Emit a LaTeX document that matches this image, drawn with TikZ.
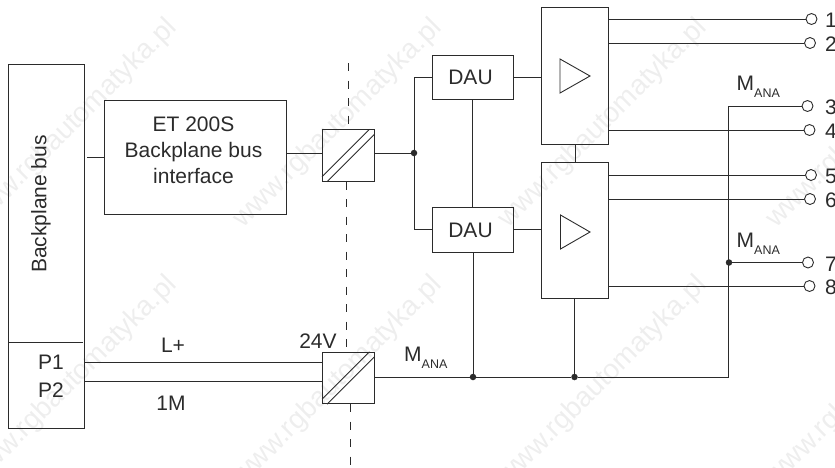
\documentclass[tikz,border=0pt]{standalone}
\usepackage{fontspec}
\setmainfont{Liberation Sans}
\usepackage{tikz}
\usepackage{xcolor}
\definecolor{inkgray}{HTML}{2B2B2B}
\definecolor{markgray}{HTML}{EEEEEE}
\tikzset{
  box/.style={draw=inkgray, line width=0.9pt, inner sep=0pt},
  wire/.style={draw=inkgray, line width=0.9pt},
  sep/.style={draw=inkgray, line width=0.9pt, dash pattern=on 8pt off 9.5pt},
  dot/.style={circle, fill=inkgray, inner sep=0pt, minimum size=6.5pt},
  term/.style={circle, draw=inkgray, fill=white, line width=0.9pt, inner sep=0pt, minimum size=11pt},
  lab/.style={inner sep=0pt, text=inkgray, align=center, font=\fontsize{21}{26}\selectfont},
  sublab/.style={inner sep=0pt, text=inkgray, font=\fontsize{12.5}{14}\selectfont}
}
\begin{document}
\begin{tikzpicture}[x=1pt, y=-1pt]
\useasboundingbox (0,0) rectangle (835,467);
% watermark
\foreach \wx in {73,338,603,871}
  \foreach \wy in {124,381}
    \node[rotate=45, inner sep=0pt, text=markgray, font=\fontsize{28}{30}\selectfont] (wm\wx\wy) at (\wx,\wy) {www.rgbautomatyka.pl};
% left side
\node[box, minimum width=76pt, minimum height=364pt] (busBox) at (46.5,246) {};
\node[lab, rotate=90] (busLab) at (41,204) {Backplane bus};
\coordinate (divL) at (8,342);
\coordinate (divR) at (83,342);
\draw[wire] (divL) -- (divR);
\node[lab] (pOne) at (51,362) {P1};
\node[lab] (pTwo) at (51,390) {P2};
\node[box, minimum width=181.5pt, minimum height=114pt] (etBox) at (195.25,157) {};
\node[lab] (etLab) at (193.5,150) {ET 200S\\Backplane bus\\interface};
% converters
\node[box, minimum width=51.5pt, minimum height=51.5pt] (convA) at (348.25,155.5) {};
\node[box, minimum width=51.5pt, minimum height=51.5pt] (convB) at (348.25,378) {};
\foreach \c in {convA,convB} {
  \draw[wire] ([yshift=5pt]\c.south west) -- ([xshift=-5pt]\c.north east);
  \draw[wire] ([xshift=5pt]\c.south west) -- ([yshift=-5pt]\c.north east);
}
% separation line
\coordinate (sepTop) at (348.5,63);
\coordinate (sepMid) at (346.5,0);
\coordinate (sepBot) at (350,467);
\draw[sep] (sepTop) -- (sepTop |- convA.north);
\draw[sep] (sepMid |- convA.south) -- (sepMid |- convB.north);
\draw[sep] (sepBot |- convB.south) -- (sepBot);
% DAU and amplifiers
\node[box, minimum width=81pt, minimum height=44.5pt] (dauA) at (472.5,77.25) {};
\node[box, minimum width=81pt, minimum height=44.5pt] (dauB) at (472.5,229.75) {};
\node[lab] (dauLabA) at (470.5,77) {DAU};
\node[lab] (dauLabB) at (470.5,230) {DAU};
\node[box, minimum width=67pt, minimum height=137pt] (ampA) at (575,75.5) {};
\node[box, minimum width=67pt, minimum height=136pt] (ampB) at (575,230) {};
\draw[wire] (560,59) -- (590,76) -- (560,93) -- cycle;
\draw[wire] (560.5,215) -- (590,232) -- (560.5,249) -- cycle;
% junctions
\node[dot] (jTop) at (414,153) {};
\node[dot] (jDau) at (473,377) {};
\node[dot] (jAmp) at (574.5,377) {};
\node[dot] (jMana) at (729,262.5) {};
\coordinate (corner) at (728.5,377);
% terminals
\foreach \n/\tx/\ty in {1/811.5/19,2/810/43,3/807.5/106,4/809.5/130,5/811/175,6/810/199,7/808/262.5,8/809.5/286} {
  \node[term] (t\n) at (\tx,\ty) {};
  \node[lab, anchor=west] (tl\n) at (825,\ty+1.5) {\n};
}
% connectors
\coordinate (busOut) at (87,157);
\draw[wire] (busOut) -- (etBox.west);
\draw[wire] (etBox.east |- jTop) -- (convA.west |- jTop);
\draw[wire] (convA.east |- jTop) -- (jTop);
\draw[wire] (dauA.west) -| (jTop) |- (dauB.west);
\draw[wire] (dauA.east) -- (ampA.west |- dauA.east);
\draw[wire] (dauB.east) -- (ampB.west |- dauB.east);
\draw[wire] (dauA.south) -- (dauB.north);
\draw[wire] (dauB.south -| jDau) -- (jDau);
\draw[wire] (ampA.south) -- (ampB.north);
\draw[wire] (ampB.south -| jAmp) -- (jAmp);
\draw[wire] (convB.east |- jDau) -- (jDau) -- (jAmp) -- (corner) -- (corner |- t3) -- (t3);
\draw[wire] (jMana) -- (t7);
\draw[wire] (ampA.east |- t1) -- (t1);
\draw[wire] (ampA.east |- t2) -- (t2);
\draw[wire] (ampA.east |- t4) -- (t4);
\draw[wire] (ampB.east |- t5) -- (t5);
\draw[wire] (ampB.east |- t6) -- (t6);
\draw[wire] (ampB.east |- t8) -- (t8);
\coordinate (lineL) at (84.5,362);
\coordinate (lineM) at (84.5,381);
\draw[wire] (lineL) -- (convB.west |- lineL);
\draw[wire] (lineM) -- (convB.west |- lineM);
% labels
\node[lab] (lPlus) at (173,345) {L+};
\node[lab] (oneM) at (171,403) {1M};
\node[lab] (volt) at (318,341) {24V};
\foreach \nm/\mx/\my in {mA/404/354,mB/736.5/83,mC/736.5/240} {
  \node[lab, anchor=west] (\nm) at (\mx,\my) {M};
  \node[sublab, anchor=west] (\nm s) at (\mx+17.5,\my+10) {ANA};
}
\end{tikzpicture}
\end{document}
